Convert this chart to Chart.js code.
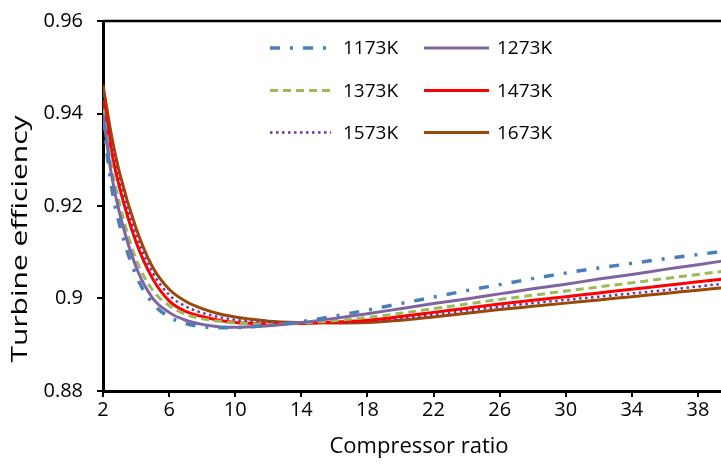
<!DOCTYPE html>
<html>
<head>
<meta charset="utf-8">
<script src="https://cdn.jsdelivr.net/npm/chart.js@4/dist/chart.umd.min.js"></script>
<style>
  html, body { margin: 0; padding: 0; background: #fff; }
  #wrap { width: 721px; height: 464px; overflow: hidden; position: relative; }
  #box { width: 740px; height: 469px; position: absolute; left: 0; top: -5px; }
</style>
</head>
<body>
<div id="wrap"><div id="box"><canvas id="chart"></canvas></div></div>
<script>
// compressor ratio (x)
const ratios = [2, 2.5, 3, 4, 5, 6, 7, 8, 9, 10, 11, 12, 14, 16, 18, 20, 22, 24, 26, 28, 30, 32, 34, 36, 38, 40];

const names = ['1173K', '1273K', '1373K', '1473K', '1573K', '1673K'];

const eff1173 = [0.9385, 0.9245, 0.9160, 0.9050, 0.8990, 0.8960, 0.8946, 0.8939, 0.8937, 0.8937, 0.8939, 0.8942, 0.8950, 0.8962, 0.8975, 0.8989, 0.9003, 0.9017, 0.9030, 0.9043, 0.9055, 0.9066, 0.9076, 0.9086, 0.9095, 0.9104];
const eff1273 = [0.9400, 0.9270, 0.9185, 0.9068, 0.9001, 0.8970, 0.8953, 0.8944, 0.8939, 0.8938, 0.8939, 0.8941, 0.8948, 0.8957, 0.8967, 0.8978, 0.8989, 0.8999, 0.9010, 0.9021, 0.9031, 0.9042, 0.9052, 0.9063, 0.9073, 0.9084];
const eff1373 = [0.9410, 0.9290, 0.9205, 0.9085, 0.9018, 0.8985, 0.8966, 0.8956, 0.8951, 0.8947, 0.8945, 0.8944, 0.8947, 0.8952, 0.8959, 0.8968, 0.8978, 0.8988, 0.8998, 0.9007, 0.9016, 0.9025, 0.9034, 0.9043, 0.9052, 0.9061];
const eff1473 = [0.9430, 0.9320, 0.9240, 0.9122, 0.9043, 0.8995, 0.8972, 0.8961, 0.8953, 0.8948, 0.8946, 0.8945, 0.8946, 0.8949, 0.8953, 0.8961, 0.8970, 0.8979, 0.8988, 0.8996, 0.9004, 0.9012, 0.9020, 0.9028, 0.9036, 0.9044];
const eff1573 = [0.9440, 0.9335, 0.9255, 0.9137, 0.9056, 0.9008, 0.8983, 0.8969, 0.8960, 0.8954, 0.8950, 0.8948, 0.8947, 0.8948, 0.8951, 0.8957, 0.8965, 0.8974, 0.8982, 0.8990, 0.8997, 0.9004, 0.9011, 0.9018, 0.9026, 0.9034];
const eff1673 = [0.9462, 0.9355, 0.9272, 0.9152, 0.9068, 0.9020, 0.8994, 0.8978, 0.8967, 0.8960, 0.8955, 0.8951, 0.8948, 0.8947, 0.8948, 0.8953, 0.8960, 0.8968, 0.8976, 0.8983, 0.8990, 0.8997, 0.9004, 0.9011, 0.9018, 0.9025];

const xTicks = [2, 6, 10, 14, 18, 22, 26, 30, 34, 38];
const yTicks = [0.88, 0.9, 0.92, 0.94, 0.96];

const FONT = '"Open Sans", "Noto Sans", sans-serif';

function pts(arr) {
    return arr.map((v, i) => ({ x: ratios[i], y: v }));
}

const styles = [
    { color: '#4A7EBB', dash: [10, 10, 3, 10], width: 3.5 },
    { color: '#8064A2', dash: [], width: 3 },
    { color: '#9BBB59', dash: [8, 5], width: 3 },
    { color: '#FF0000', dash: [], width: 3 },
    { color: '#7030A0', dash: [2.5, 3.5], width: 2.5 },
    { color: '#984807', dash: [], width: 3 }
];
const series = [eff1173, eff1273, eff1373, eff1473, eff1573, eff1673];

const datasets = series.map((s, i) => ({
    label: names[i],
    data: pts(s),
    borderColor: styles[i].color,
    borderDash: styles[i].dash,
    borderWidth: styles[i].width,
    pointRadius: 0,
    fill: false,
    cubicInterpolationMode: 'monotone'
}));

// the box is shifted up 5px, so page y = canvas y - 5
const OFF = 5;

// frame top line, titles and the legend inside the plot
const extras = {
    id: 'extras',
    afterDatasetsDraw(chart) {
        const ctx = chart.ctx;
        const a = chart.chartArea;
        ctx.save();
        ctx.strokeStyle = '#000';
        ctx.lineWidth = 2.5;
        ctx.beginPath();
        ctx.moveTo(a.left, a.top);
        ctx.lineTo(a.right + 2, a.top);
        ctx.stroke();

        // legend
        const rows = [48, 90.5, 132.5];
        const cols = [{ x0: 270, x1: 331, tx: 343 }, { x0: 424, x1: 489, tx: 497 }];
        ctx.font = '19px ' + FONT;
        ctx.textBaseline = 'middle';
        ctx.fillStyle = '#000';
        for (let i = 0; i < names.length; i++) {
            const c = cols[i % 2];
            const y = rows[Math.floor(i / 2)] + OFF;
            ctx.strokeStyle = styles[i].color;
            ctx.lineWidth = styles[i].width;
            ctx.setLineDash(styles[i].dash);
            ctx.beginPath();
            ctx.moveTo(c.x0, y);
            ctx.lineTo(c.x1, y);
            ctx.stroke();
            ctx.setLineDash([]);
            ctx.fillText(names[i], c.tx, y + 1);
        }

        // axis titles
        ctx.font = '22px ' + FONT;
        ctx.textAlign = 'center';
        ctx.fillText('Compressor ratio', 419, 447 + OFF);
        const w = ctx.measureText('Turbine efficiency').width;
        ctx.translate(21, 239 + OFF);
        ctx.rotate(-Math.PI / 2);
        ctx.scale(247 / w, 1);
        ctx.fillText('Turbine efficiency', 0, 0);
        ctx.restore();
    }
};

const chart = new Chart(document.getElementById('chart'), {
    type: 'line',
    data: { datasets: datasets },
    options: {
        responsive: true,
        maintainAspectRatio: false,
        animation: false,
        layout: { padding: { left: 0, top: 13, right: 9, bottom: 0 } },
        plugins: { legend: { display: false }, tooltip: { enabled: false } },
        scales: {
            x: {
                type: 'linear',
                min: 2,
                max: 40,
                afterBuildTicks: s => { s.ticks = xTicks.map(v => ({ value: v })); },
                afterFit: s => { s.height = 73; },
                border: { color: '#000', width: 3 },
                grid: { drawOnChartArea: false, drawTicks: true, tickLength: 6, color: '#000', lineWidth: 2 },
                ticks: { color: '#000', font: { family: FONT, size: 20 }, padding: 1, maxRotation: 0 }
            },
            y: {
                min: 0.88,
                max: 0.96,
                afterBuildTicks: s => { s.ticks = yTicks.map(v => ({ value: v })); },
                afterFit: s => { s.width = 103; },
                border: { color: '#000', width: 3 },
                grid: { drawOnChartArea: false, drawTicks: true, tickLength: 6, color: '#000', lineWidth: 2 },
                ticks: {
                    color: '#000',
                    font: { family: FONT, size: 20 },
                    padding: 14,
                    callback: v => String(+v.toFixed(2))
                }
            }
        }
    },
    plugins: [extras]
});
</script>
</body>
</html>
